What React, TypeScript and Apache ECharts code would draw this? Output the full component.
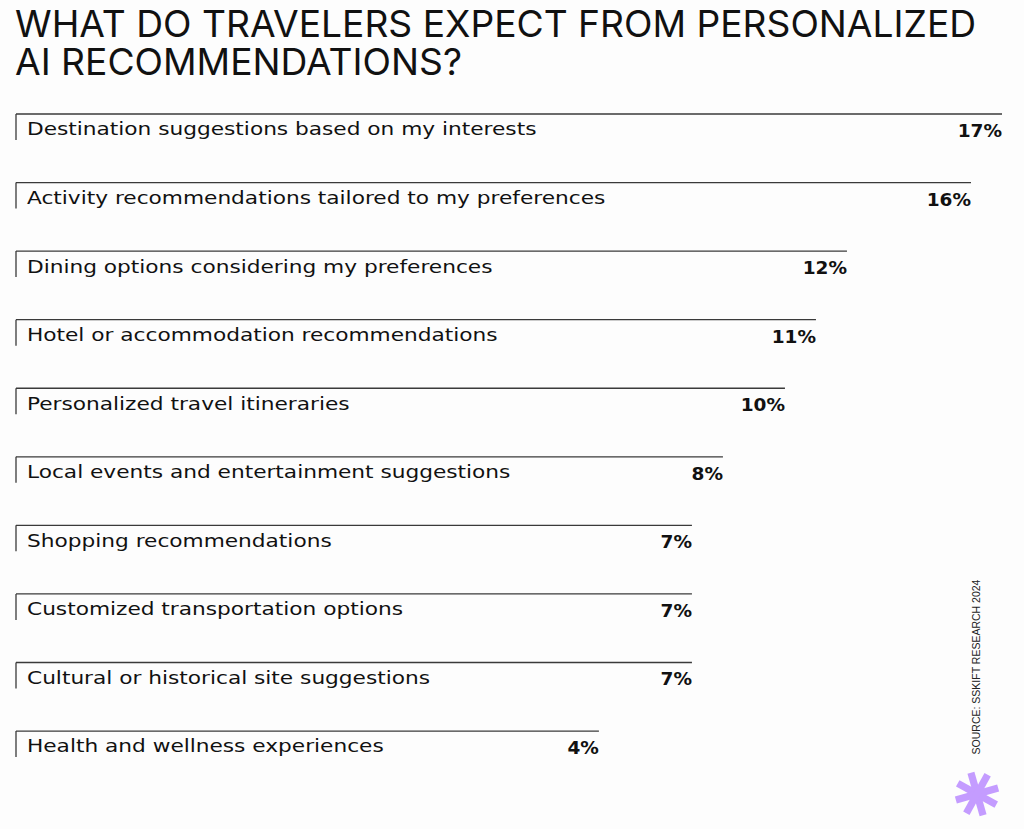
import React, { useEffect, useRef } from "react";
import * as echarts from "echarts";

const categories = [
  "Destination suggestions based on my interests",
  "Activity recommendations tailored to my preferences",
  "Dining options considering my preferences",
  "Hotel or accommodation recommendations",
  "Personalized travel itineraries",
  "Local events and entertainment suggestions",
  "Shopping recommendations",
  "Customized transportation options",
  "Cultural or historical site suggestions",
  "Health and wellness experiences",
];
const values = [17, 16, 12, 11, 10, 8, 7, 7, 7, 4];
const TITLE_LINES = ["WHAT DO TRAVELERS EXPECT FROM PERSONALIZED", "AI RECOMMENDATIONS?"];
const SOURCE = "SOURCE: SSKIFT RESEARCH 2024";

const AXIS_MIN = -14.8;
const AXIS_MAX = 17;

export default function App() {
  const ref = useRef<HTMLDivElement>(null);
  useEffect(() => {
    if (!ref.current) return;
    const chart = echarts.init(ref.current, null, { renderer: "svg" });
    const arms = [0, 1, 2, 3].map((k) => ({
      type: "rect",
      shape: { x: -22, y: -3.6, width: 44, height: 7.2 },
      rotation: (k * Math.PI) / 4 + 0.28 + Math.PI / 2,
      style: { fill: "#c49cff" },
    }));
    const titleTexts = TITLE_LINES.map((t, i) => ({
      type: "text",
      x: 15,
      y: 23.5 + i * 38,
      style: {
        text: t,
        fontFamily: "Inter",
        fontSize: 37.2,
        fontWeight: "normal",
        fill: "#111",
        textAlign: "left",
        textVerticalAlign: "middle",
      },
    }));
    chart.setOption({
      animation: false,
      backgroundColor: "#fdfdfd",
      grid: { left: 16, right: 22, top: 114, height: 685.6 },
      xAxis: { type: "value", min: AXIS_MIN, max: AXIS_MAX, show: false },
      yAxis: { type: "category", data: categories, inverse: true, show: false },
      graphic: [
        ...titleTexts,
        {
          type: "text",
          x: 976,
          y: 667,
          rotation: Math.PI / 2,
          style: {
            text: SOURCE,
            fontFamily: "Liberation Sans",
            fontSize: 10.5,
            fill: "#222",
            textAlign: "center",
            textVerticalAlign: "middle",
          },
        },
        { type: "group", x: 977, y: 794, children: arms },
      ],
      series: [
        {
          type: "custom",
          encode: { x: 0, y: 1 },
          data: values.map((v, i) => [v, i]),
          renderItem: (params: any, api: any) => {
            const idx = api.value(1);
            const val = api.value(0);
            const end = api.coord([val, idx]);
            const band = api.size([0, 1])[1];
            const x0 = params.coordSys.x;
            const yTop = end[1] - band / 2;
            return {
              type: "group",
              children: [
                {
                  type: "line",
                  shape: { x1: x0, y1: yTop, x2: end[0], y2: yTop },
                  style: { stroke: "#3a3a3a", lineWidth: 1.3 },
                },
                {
                  type: "line",
                  shape: { x1: x0, y1: yTop, x2: x0, y2: yTop + 26 },
                  style: { stroke: "#3a3a3a", lineWidth: 1.3 },
                },
                {
                  type: "text",
                  x: x0 + 11,
                  y: yTop + 15,
                  scaleX: 1.185,
                  style: {
                    text: categories[idx],
                    fontFamily: "DejaVu Sans",
                    fontSize: 18.3,
                    fill: "#111",
                    textAlign: "left",
                    textVerticalAlign: "middle",
                  },
                },
                {
                  type: "text",
                  x: end[0],
                  y: yTop + 16.5,
                  style: {
                    text: val + "%",
                    fontFamily: "DejaVu Sans",
                    fontSize: 18.5,
                    fontWeight: "bold",
                    fill: "#111",
                    textAlign: "right",
                    textVerticalAlign: "middle",
                  },
                },
              ],
            };
          },
        },
      ],
    });
    return () => chart.dispose();
  }, []);
  return (
    <div
      ref={ref}
      style={{ position: "absolute", left: 0, top: 0, width: 1024, height: 829 }}
    />
  );
}
